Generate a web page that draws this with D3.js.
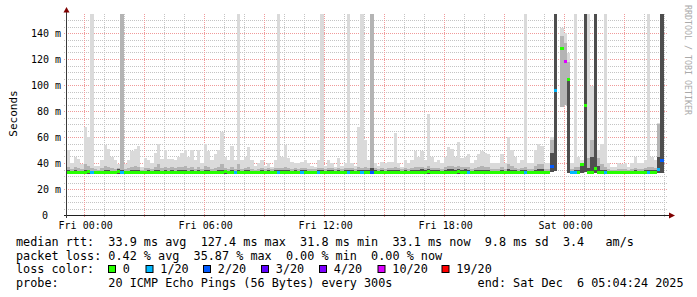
<!DOCTYPE html>
<html><head><meta charset="utf-8">
<script src="https://cdn.jsdelivr.net/npm/d3@7"></script>
<style>
body{margin:0;background:#fff}
svg{display:block}
text{font-family:"DejaVu Sans Mono",monospace;white-space:pre}
</style>
</head><body>
<svg id="chart" width="697" height="297"></svg>
<script>
// ---------------- DATA ----------------
// 180 slots of 10 minutes, starting Thu Dec 4 2025 23:08:30
const slotStart = new Date(2025, 11, 4, 23, 8, 30);
const slotMinutes = 10;

// median rtt (ms)
const median = [
32.9,32.8,32.8,33.0,32.7,32.8,33.1,32.6,32.8,32.9, 32.7,32.8,33.0,32.8,32.6,33.2,32.5,32.8,32.9,32.7,
32.8,33.0,32.7,32.6,32.5,32.6,32.7,32.8,32.9,32.8, 32.7,32.8,32.6,32.8,32.9,32.7,32.8,33.0,32.8,32.7,
32.8,32.9,32.6,32.8,32.7,32.8,32.9,33.1,32.8,32.7, 32.8,32.6,32.8,32.7,32.9,32.8,32.8,33.0,32.9,32.8,
32.8,32.7,32.9,32.6,32.8,32.8,32.7,32.9,32.8,32.7, 32.6,32.8,32.9,32.8,32.7,32.6,32.8,32.9,32.8,32.7,
32.8,32.9,32.7,32.8,32.6,32.8,32.9,32.7,32.6,32.8, 32.9,32.4,32.8,32.7,32.8,32.9,32.8,32.7,32.8,32.9,
32.8,32.7,32.8,32.9,33.0,32.8,32.7,32.8,33.1,32.8, 32.7,32.8,32.9,32.8,33.0,32.9,32.8,33.1,32.9,32.8,
32.5,32.8,32.9,32.8,33.0,32.8,32.9,32.7,32.8,32.8, 32.9,32.7,32.8,33.0,32.8,32.7,32.8,32.5,32.8,32.9,
32.8,33.0,32.8,32.7,32.8,37.0,96.0,null,128.0,118.0, 104.0,32.4,32.5,32.8,38.5,84.6,32.8,33.0,36.0,32.9,
32.8,32.5,32.8,32.7,32.8,32.9,32.8,32.7,32.8,32.9, 32.8,32.8,32.7,32.8,32.5,32.8,32.9,35.0,41.8,null
];

// lowest ping of each slot (ms)
const minPing = [
31.6,31.5,31.6,31.7,31.5,31.6,31.7,31.4,31.6,31.6, 31.5,31.6,31.7,31.6,31.4,31.8,31.3,31.6,31.6,31.5,
31.6,31.7,31.5,31.4,31.3,31.4,31.5,31.6,31.6,31.6, 31.5,31.6,31.4,31.6,31.6,31.5,31.6,31.7,31.6,31.5,
31.6,31.6,31.4,31.6,31.5,31.6,31.6,31.8,31.6,31.5, 31.6,31.4,31.6,31.5,31.6,31.6,31.6,31.7,31.6,31.6,
31.6,31.5,31.6,31.4,31.6,31.6,31.5,31.6,31.6,31.5, 31.4,31.6,31.6,31.6,31.5,31.4,31.6,31.6,31.6,31.5,
31.6,31.6,31.5,31.6,31.4,31.6,31.6,31.5,31.4,31.6, 31.6,31.2,31.6,31.5,31.6,31.6,31.6,31.5,31.6,31.6,
31.6,31.5,31.6,31.6,31.7,31.6,31.5,31.6,31.8,31.6, 31.5,31.6,31.6,31.6,31.7,31.6,31.6,31.8,31.6,31.6,
31.3,31.6,31.6,31.6,31.7,31.6,31.6,31.5,31.6,31.6, 31.6,31.5,31.6,31.7,31.6,31.5,31.6,31.3,31.6,31.6,
31.6,31.7,31.6,31.5,31.6,33.0,33.5,null,83.0,85.0, 32.5,31.2,31.3,31.6,32.5,32.8,31.6,31.7,32.5,31.6,
31.6,31.3,31.6,31.5,31.6,31.6,31.6,31.5,31.6,31.6, 31.6,31.6,31.5,31.6,31.3,31.6,31.6,32.0,32.5,null
];

// darkest smoke band top (ms)
const smokeInner = [
34.5,34,34.5,34,34,35,34.5,34,34,34, 34,35,34.5,34,34,35.5,35,34,34,34.5,
35,35,34,34,34.5,34,34.5,35,34,34.5, 34,34.5,34,34.5,35,34.5,34,34.5,34,34.5,
34,35,34.5,34,34,34.5,35,34,34,35, 34,35,34,34.5,35,34,34,34,34.5,34,
34.5,34,34.5,35,34.5,35,34.5,34,34.5,34, 34.5,34.5,34,34,34,34.5,35,34,34.5,34.5,
34,34.5,34,34.5,35,34.5,34,35,35,35, 34.5,36,34.5,34,34.5,34,34.5,34.5,35,34.5,
34,34.5,34,34.5,35,35,35.5,34.5,35.5,35, 34.5,34.5,34,35,35.5,35.5,35,35.5,35,35.5,
34.5,34,34.5,35,35,35,34.5,34,34,34, 34.5,34,35.5,35,34.5,34,34.5,35,34,34,
35,35.5,35.5,34,34,48,999,null,83,85, 104,34,34.5,34.5,40,999,36,45,999,38,
35,34.5,34,34,34,34,34,34,34,34, 34.5,34,34,34.5,35,34.5,34.5,45,999,null
];

// middle smoke band top (ms)
const smokeMiddle = [
37,35.5,37,36,35.5,39,38,36,35.5,35, 36,38,37,36,35.5,36.5,999,35.5,36,37,
38,37,35,36,36,35.5,37,39,36,37, 36,37,36,37,37,38,36,37,35.5,37,
35.5,38,37,35.5,36,37,39,36,35.5,37, 35.5,39,35.5,36,37,35.5,35,35.5,36,35.5,
36,35.5,36,36,36,37,36,35.5,36,35.5, 36,36,35.5,35.5,35.5,36,36,35.5,36,36,
35.5,36,35.5,36,36,36,35.5,37,36,37, 36,999,36,35.5,36,35.5,36,36,37,36,
35.5,36,35.5,36,37,37,37,36,38,36, 36,36,35.5,37,38,38,37,38,37,37,
37,35.5,36,37,38,37,37,35.5,35.5,35.5, 37,35.5,39,38,36,35.5,36,37,35.5,35.5,
38,39,39,35.5,35.5,58,999,null,138,132, 118,35.5,37,37,40,999,44,58,999,44,
39,37,35.5,35,35,35.5,35.5,35.5,35,35.5, 36,35.5,35.5,36,37,37,36,70,999,null
];

// highest ping of each slot (ms); values above the chart top run off the top
const maxPing = [
50,40,45,43,39,68,60,999,38,38, 42,54,51,45,42,39,999,39,42,49,
51,53,37,44,42,40,48,55,43,50, 43,43,42,45,48,50,45,50,42,50,
40,55,49,42,47,50,64,45,42,53, 42,999,42,45,52,42,38,40,42,38,
40,37,42,999,45,54,44,41,40,40, 41,42,40,38,37,42,999,38,42,40,
37,44,38,40,999,40,38,68,999,58, 42,999,40,38,41,40,41,41,63,40,
37,42,40,42,49,45,49,42,78,45, 41,42,40,45,52,51,45,56,44,45,
47,40,42,47,49,48,47,40,40,40, 47,40,60,50,45,40,42,999,40,40,
50,55,53,40,40,60,999,null,144,140, 125,40,999,45,42,999,999,99,999,50,
55,999,40,37,37,40,39,40,37,40, 45,40,40,42,999,45,42,71,999,null
];

// slots with packet loss (index, lost pings out of 20)
const lossSlot  = [7,16,50,63,70,75,84,88,91,120,137,145,146,149,151,152,161,174,177,178];
const lossCount = [1,1,1,1,1,1,1,1,2,1,1,2,1,10,1,1,1,1,1,2];

// loss colour legend
const lossLabels = ["0","1/20","2/20","3/20","4/20","10/20","19/20"];
const lossLimits = [0,1,2,3,4,10,19];
const lossColors = ["#26ff00","#00b8ff","#0059ff","#5e00ff","#7e00ff","#dd00ff","#ff0000"];

// y axis ticks
const yTickValues = [0,20,40,60,80,100,120,140];
const yTickLabels = ["0","20 m","40 m","60 m","80 m","100 m","120 m","140 m"];

// legend text
const legendLines = [
  "median rtt:  33.9 ms avg  127.4 ms max  31.8 ms min  33.1 ms now  9.8 ms sd  3.4   am/s",
  "packet loss: 0.42 % avg  35.87 % max  0.00 % min  0.00 % now",
  "loss color:",
  "probe:       20 ICMP Echo Pings (56 Bytes) every 300s"
];
const endLabel = "end: Sat Dec  6 05:04:24 2025";

// ---------------- DRAW ----------------
const svg = d3.select("#chart");
const L = 67, R = 667, T = 14, B = 215;
const viewStart = slotStart;
const viewEnd = d3.timeMinute.offset(slotStart, slotMinutes * median.length);
const x = d3.scaleTime().domain([viewStart, viewEnd]).range([L, R]);
const y = d3.scaleLinear().domain([0, (B - T) / 1.3]).range([B, T]);
const slotTime = i => d3.timeMinute.offset(slotStart, slotMinutes * i);

const lossArr = median.map(() => 0);
lossSlot.forEach((s, k) => lossArr[s] = lossCount[k]);
const lossColor = l => {
  for (let k = 0; k < lossLimits.length; k++) if (l <= lossLimits[k]) return lossColors[k];
  return lossColors[lossColors.length - 1];
};

svg.append("rect").attr("width", 697).attr("height", 297).attr("fill", "#fff");

svg.append("defs").append("clipPath").attr("id", "plotclip")
  .append("rect").attr("x", L).attr("y", T).attr("width", R - L).attr("height", B - T);

// grid
const grid = svg.append("g");
const minorY = d3.range(0, 155, 5).filter(v => v % 20 !== 0);
const majorY = d3.range(0, 155, 20).filter(v => v > 0);
grid.selectAll(".gyn").data(minorY).join("line")
  .attr("x1", L - 3).attr("x2", R).attr("y1", d => Math.round(y(d)) + 0.5).attr("y2", d => Math.round(y(d)) + 0.5)
  .attr("stroke", "#c4c4c4").attr("stroke-dasharray", "1,1");
const hours = d3.timeHour.range(viewStart, viewEnd);
grid.selectAll(".gxn").data(hours.filter(h => h.getHours() % 3 !== 0)).join("line")
  .attr("y1", T).attr("y2", B + 2).attr("x1", d => Math.round(x(d)) + 0.5).attr("x2", d => Math.round(x(d)) + 0.5)
  .attr("stroke", "#c4c4c4").attr("stroke-dasharray", "1,1");
grid.selectAll(".gym").data(majorY).join("line")
  .attr("x1", L - 3).attr("x2", R).attr("y1", d => Math.round(y(d)) + 0.5).attr("y2", d => Math.round(y(d)) + 0.5)
  .attr("stroke", "#f09a9a").attr("stroke-dasharray", "1,1");
grid.selectAll(".gxm").data(hours.filter(h => h.getHours() % 3 === 0)).join("line")
  .attr("y1", T).attr("y2", B + 2).attr("x1", d => Math.round(x(d)) + 0.5).attr("x2", d => Math.round(x(d)) + 0.5)
  .attr("stroke", "#f09a9a").attr("stroke-dasharray", "1,1");

// smoke
const plot = svg.append("g").attr("clip-path", "url(#plotclip)").attr("shape-rendering", "crispEdges");
const idx = d3.range(median.length).filter(i => median[i] !== null);
function smokeLayer(vals, color) {
  plot.append("g").selectAll("rect").data(idx.filter(i => vals[i] !== null)).join("rect")
    .attr("x", i => x(slotTime(i)))
    .attr("width", i => x(slotTime(i + 1)) - x(slotTime(i)))
    .attr("y", i => y(Math.min(vals[i], 200)))
    .attr("height", i => Math.max(0, y(minPing[i]) - y(Math.min(vals[i], 200))))
    .attr("fill", color);
}
smokeLayer(maxPing, "#dadada");
smokeLayer(smokeMiddle, "#b4b4b4");
smokeLayer(smokeInner, "#4e4e4e");

// median with loss colour
plot.append("g").selectAll("rect").data(idx).join("rect")
  .attr("x", i => x(slotTime(i)))
  .attr("width", i => x(slotTime(i + 1)) - x(slotTime(i)))
  .attr("y", i => y(median[i]) - 1.5)
  .attr("height", 3)
  .attr("fill", i => lossColor(lossArr[i]));

// axes
const yAxis = d3.axisLeft(y).tickValues(yTickValues.slice(1)).tickFormat((d, k) => yTickLabels[k + 1]).tickSize(0).tickPadding(6);
const gy = svg.append("g").attr("transform", `translate(${L},0)`).call(yAxis);
gy.select(".domain").remove();
gy.selectAll("text").attr("font-size", 10).attr("fill", "#000").attr("font-family", "DejaVu Sans Mono")
  .attr("x", -6).attr("dy", "0.36em");
svg.append("text").attr("x", 48).attr("y", y(yTickValues[0])).attr("dy", "0.36em")
  .attr("text-anchor", "end").attr("font-size", 10).text(yTickLabels[0]);

const xAxis = d3.axisBottom(x).ticks(d3.timeHour.every(6)).tickFormat(d3.timeFormat("%a %H:%M")).tickSize(0).tickPadding(0);
const gx = svg.append("g").attr("transform", `translate(0,${B})`).call(xAxis);
gx.select(".domain").remove();
gx.selectAll("text").attr("font-size", 10).attr("fill", "#000").attr("font-family", "DejaVu Sans Mono")
  .attr("dy", null).attr("y", 13.5).attr("x", 1);

// axis lines and arrows
svg.append("line").attr("x1", L - 3).attr("x2", R + 3).attr("y1", B + 0.5).attr("y2", B + 0.5).attr("stroke", "#1f1f1f");
svg.append("line").attr("x1", L - 0.5).attr("x2", L - 0.5).attr("y1", B + 3).attr("y2", T - 3).attr("stroke", "#3a3a3a");
svg.append("path").attr("d", `M${L - 3.5},${T - 1.5} L${L - 0.5},${T - 7} L${L + 2.5},${T - 1.5} Z`).attr("fill", "#7f0000");
svg.append("path").attr("d", `M${R + 2},${B - 2.5} L${R + 8},${B + 0.5} L${R + 2},${B + 3.5} Z`).attr("fill", "#7f0000");

// y label
svg.append("text").attr("transform", "translate(16.5,113.5) rotate(-90)").attr("text-anchor", "middle")
  .attr("font-size", 11).text("Seconds");

// watermark
svg.append("text").attr("transform", "translate(685,5) rotate(90)").attr("font-size", 8.3)
  .attr("fill", "#aaaaaa").text("RRDTOOL / TOBI OETIKER");

// legend
const lg = svg.append("g").attr("font-size", 11.8).attr("fill", "#000");
const baselines = [246, 259.5, 273, 286.7];
legendLines.forEach((t, k) => lg.append("text").attr("x", 16).attr("y", baselines[k]).text(t));
lg.append("text").attr("x", 477.6).attr("y", baselines[3]).text(endLabel);
const boxX = [108, 145.5, 203, 261, 319, 377.5, 441.5];
lossLabels.forEach((lab, k) => {
  lg.append("rect").attr("x", boxX[k] + 0.5).attr("y", 265.5).attr("width", 7).attr("height", 7)
    .attr("fill", lossColors[k]).attr("stroke", "#000").attr("stroke-width", 1);
  lg.append("text").attr("x", boxX[k] + 14.8).attr("y", baselines[2]).text(lab);
});
</script>
</body></html>
